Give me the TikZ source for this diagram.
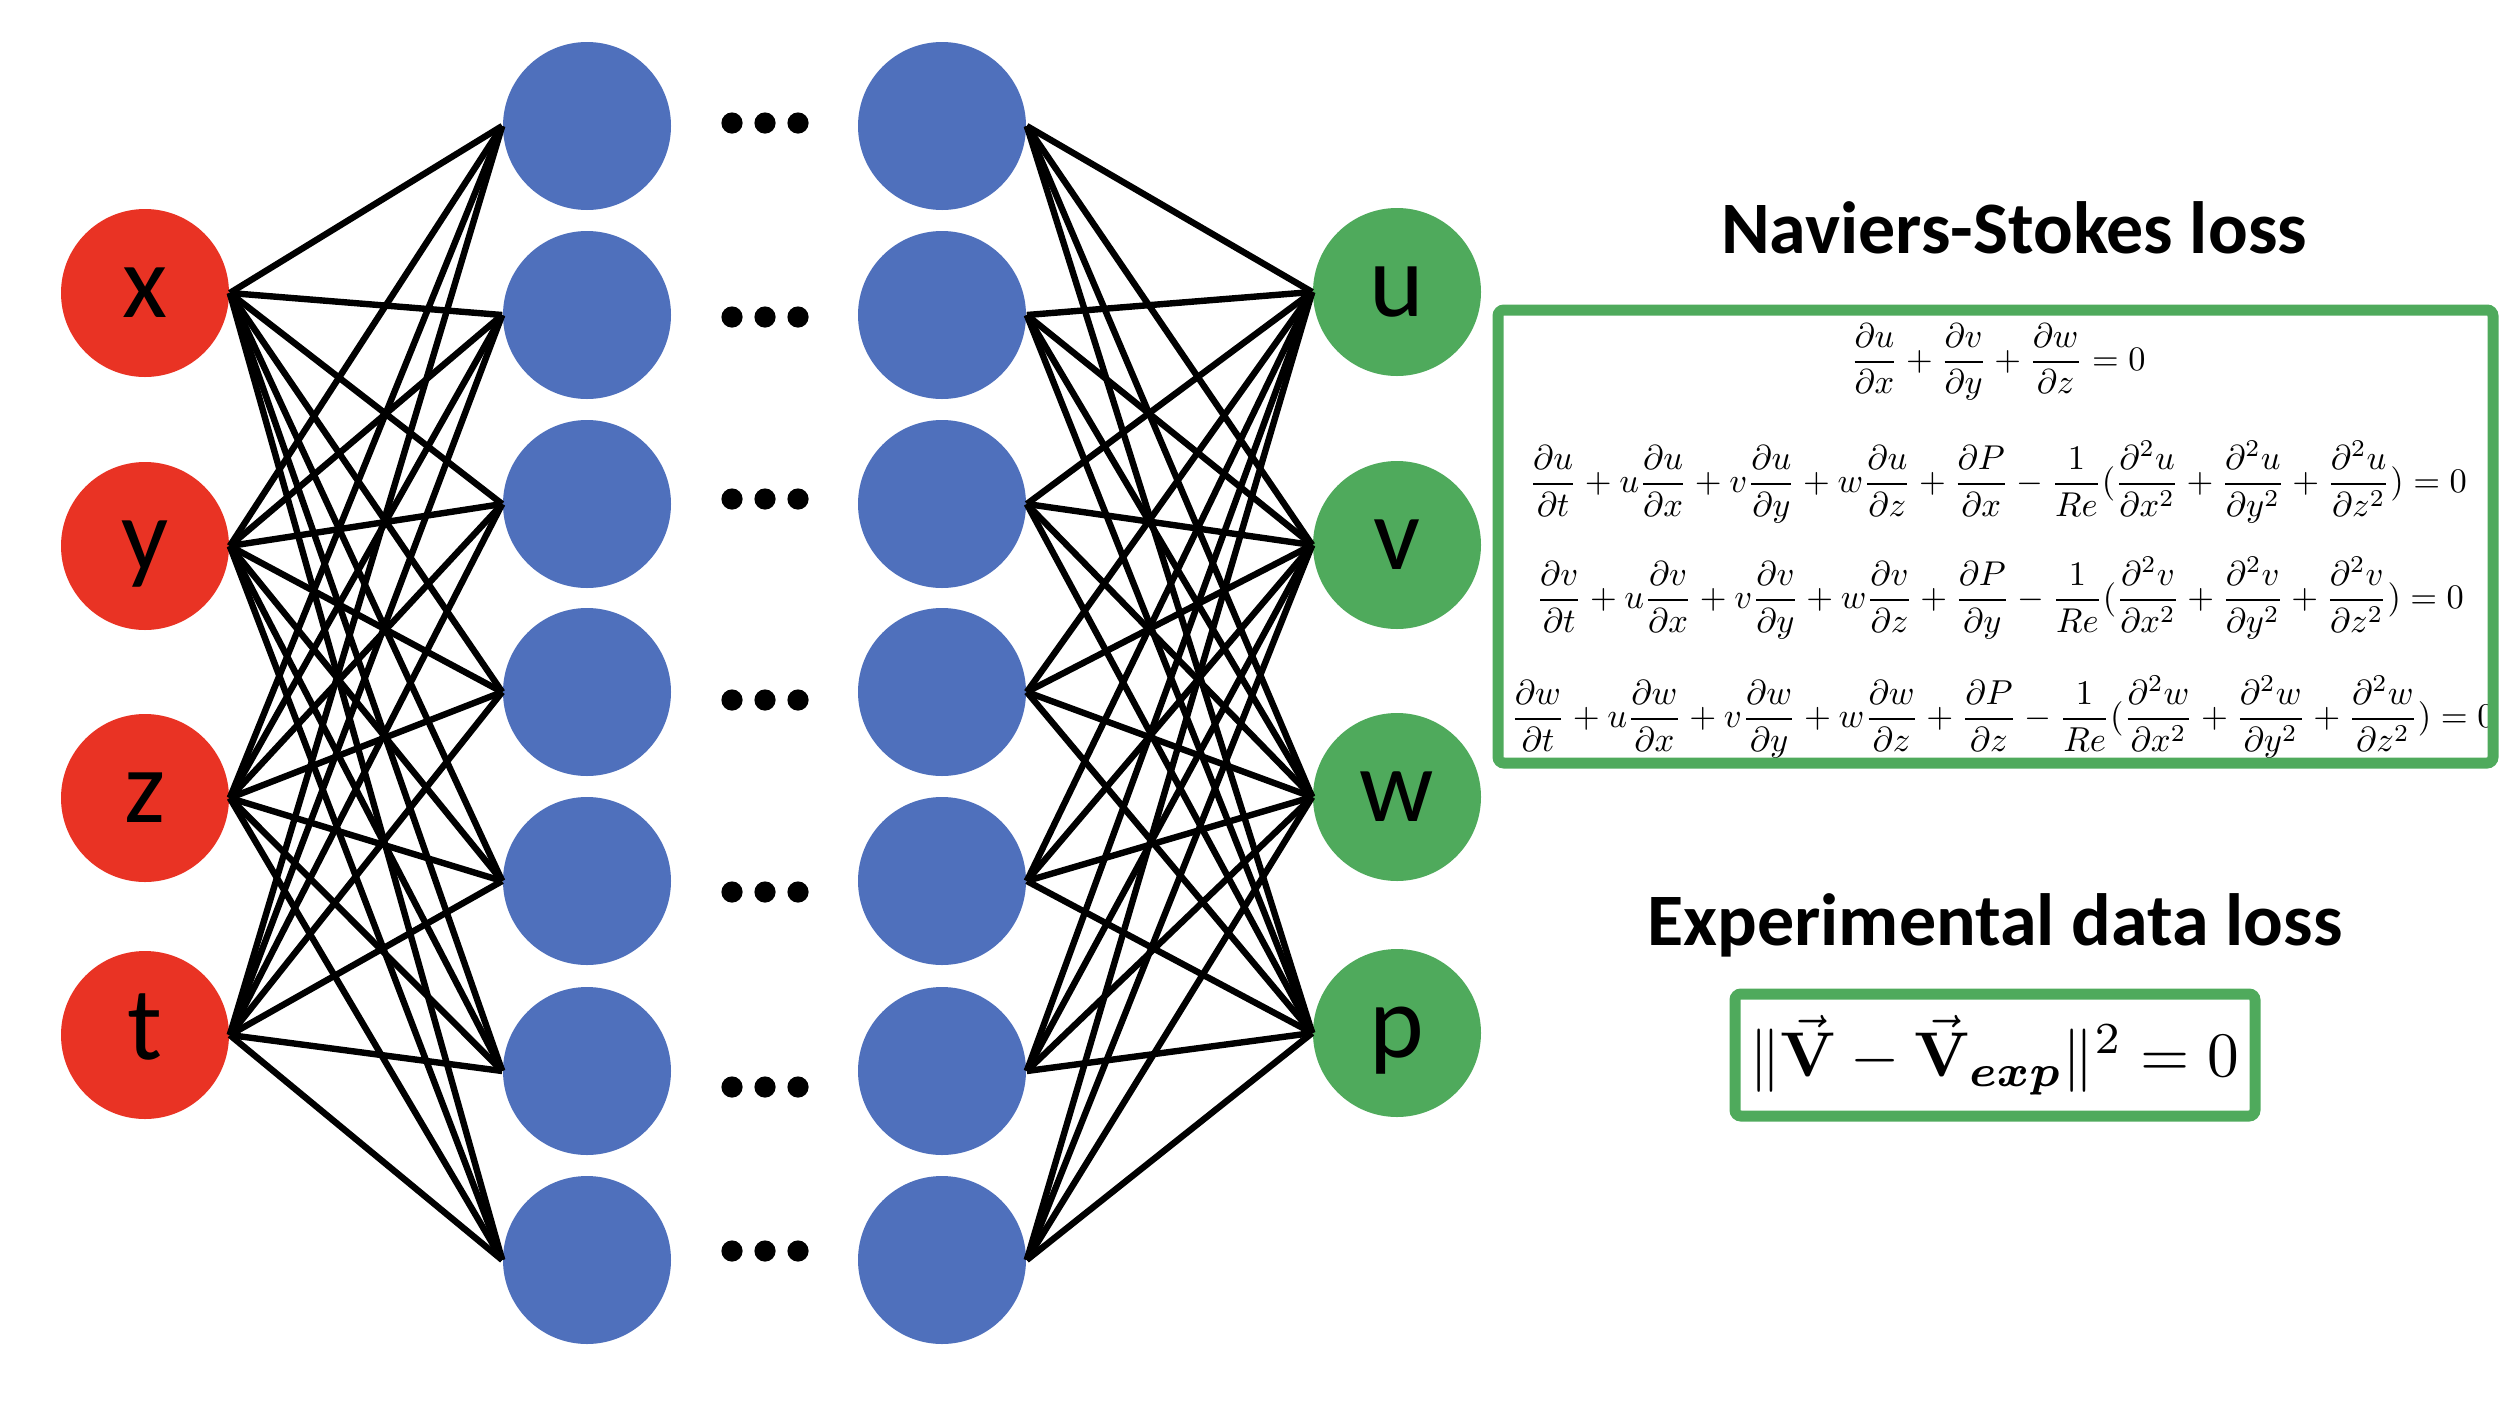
\documentclass[tikz,border=0pt]{standalone}
\usepackage[no-math]{fontspec}
\newfontfamily\calibri{Carlito}
\usepackage{amsmath,bm}
\usepackage{graphicx}
\definecolor{inred}{RGB}{233,51,36}
\definecolor{hidblue}{RGB}{79,112,188}
\definecolor{outgreen}{RGB}{79,170,92}
\begin{document}
\begin{tikzpicture}[x=0.25pt,y=-0.25pt,
  neuron/.style={circle,minimum size=42pt,inner sep=0pt,text height=12.1pt,text depth=0pt,
    font=\calibri\fontsize{26}{26}\selectfont},
  innode/.style={neuron,fill=inred},
  hidnode/.style={neuron,fill=hidblue},
  outnode/.style={neuron,fill=outgreen},
  conn/.style={line width=1.6pt,black},
  titletext/.style={font=\calibri\bfseries\fontsize{18.5}{20}\selectfont,anchor=base},
  lossbox/.style={draw=outgreen,line width=2.75pt,rounded corners=1.5pt},
  eqnode/.style={inner sep=0pt}
]
\useasboundingbox (0,0) rectangle (2518,1404);

% input layer
\node[innode] (nx) at (145,293) {x};
\node[innode] (ny) at (145,546) {y};
\node[innode] (nz) at (145,798) {z};
\node[innode] (nt) at (145,1035) {t};

% hidden layers
\foreach \j/\yy in {1/126,2/315,3/504,4/692,5/881,6/1071,7/1260}{
  \node[hidnode] (a\j) at (587,\yy) {};
  \node[hidnode] (b\j) at (942,\yy) {};
}

% output layer
\node[outnode] (nu) at (1397,292) {u};
\node[outnode] (nv) at (1397,545) {v};
\node[outnode] (nw) at (1397,797) {w};
\node[outnode] (np) at (1397,1033) {p};

% connections
\foreach \i in {nx,ny,nz,nt}{
  \foreach \j in {1,...,7}{
    \draw[conn] (\i.east) -- (a\j.west);
  }
}
\foreach \j in {1,...,7}{
  \foreach \k in {nu,nv,nw,np}{
    \draw[conn] (b\j.east) -- (\k.west);
  }
}

% ellipsis dots
\foreach \yy in {123,317,499,700,892,1087,1251}{
  \foreach \xx in {732,765,798}{
    \fill (\xx,\yy) circle[radius=2.65pt];
  }
}

% titles
\node[titletext] (nstitle) at (2014,253) {Naviers-Stokes loss};
\node[titletext] (edtitle) at (1995,945) {Experimental data loss};

% Navier-Stokes equations
\node[eqnode] (eq1) at (1998,362) {\resizebox{73.75pt}{!}{$\displaystyle
  \frac{\partial u}{\partial x}+\frac{\partial v}{\partial y}+\frac{\partial w}{\partial z}=0$}};
\node[eqnode] (eq2) at (1998,482) {\resizebox{234.5pt}{!}{$\displaystyle
  \frac{\partial u}{\partial t}+u\frac{\partial u}{\partial x}+v\frac{\partial u}{\partial y}+w\frac{\partial u}{\partial z}+\frac{\partial P}{\partial x}-\frac{1}{Re}(\frac{\partial^2 u}{\partial x^2}+\frac{\partial^2 u}{\partial y^2}+\frac{\partial^2 u}{\partial z^2})=0$}};
\node[eqnode] (eq3) at (2000,598) {\resizebox{232pt}{!}{$\displaystyle
  \frac{\partial v}{\partial t}+u\frac{\partial v}{\partial x}+v\frac{\partial v}{\partial y}+w\frac{\partial v}{\partial z}+\frac{\partial P}{\partial y}-\frac{1}{Re}(\frac{\partial^2 v}{\partial x^2}+\frac{\partial^2 v}{\partial y^2}+\frac{\partial^2 v}{\partial z^2})=0$}};
\node[eqnode,anchor=west] (eq4) at (1510,717) {\resizebox{246pt}{!}{$\displaystyle
  \frac{\partial w}{\partial t}+u\frac{\partial w}{\partial x}+v\frac{\partial w}{\partial y}+w\frac{\partial w}{\partial z}+\frac{\partial P}{\partial z}-\frac{1}{Re}(\frac{\partial^2 w}{\partial x^2}+\frac{\partial^2 w}{\partial y^2}+\frac{\partial^2 w}{\partial z^2})=0$}};
\draw[lossbox] (1498,310) rectangle (2493,763);

% experimental data loss
\node[eqnode] (eq5) at (1994,1055) {\resizebox{122.5pt}{!}{$\|\vec{\mathbf{V}}-\vec{\mathbf{V}}_{\bm{exp}}\|^2=0$}};
\draw[lossbox] (1735,994) rectangle (2255,1116);
\end{tikzpicture}
\end{document}
